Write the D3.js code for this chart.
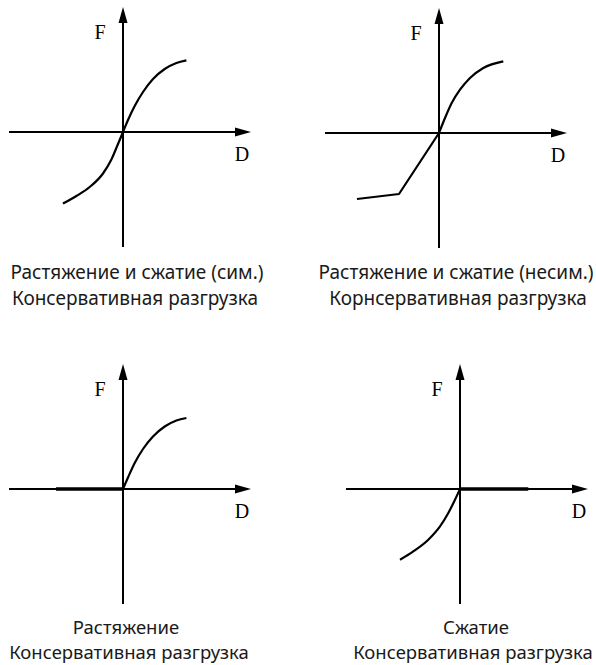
<!DOCTYPE html>
<html><head><meta charset="utf-8">
<script src="https://cdn.jsdelivr.net/npm/d3@7"></script>
<style>body{margin:0;background:#fff}svg{display:block}</style>
</head><body>
<svg id="c" width="596" height="665"></svg>
<script>
// ---------- data ----------
const axisNames = ["D", "F"];
const captions = [
  ["Растяжение и сжатие (сим.)", "Консервативная разгрузка"],
  ["Растяжение и сжатие (несим.)", "Корнсервативная разгрузка"],
  ["Растяжение", "Консервативная разгрузка"],
  ["Сжатие", "Консервативная разгрузка"]
];
const axisD = [-11.4, 12.8];
const axisF = [-11.5, 12.5];

// panel 1: symmetric S-curve
const p1D = [-6.0, -4.66, -3.33, -2.0, -1.16, -0.5, 0, 0.5, 1.17, 2.0, 3.0, 4.17, 5.34, 6.34];
const p1F = [-7.16, -6.4, -5.5, -4.15, -2.75, -1.2, 0, 1.2, 2.6, 4.0, 5.3, 6.3, 6.9, 7.17];
// panel 2: asymmetric (linear lower branch + curved upper branch)
const p2LinD = [-8.2, -4.0, 0];
const p2LinF = [-6.6, -6.1, 0];
const p2CurD = [0, 0.6, 1.27, 2.1, 3.1, 4.43, 6.43];
const p2CurF = [0, 1.5, 3.0, 4.33, 5.5, 6.5, 7.16];
// panel 3: tension only
const p3FlatD = [-6.7, 0];
const p3FlatF = [0, 0];
const p3CurD = [0, 0.5, 1.17, 2.0, 3.0, 4.17, 5.34, 6.34];
const p3CurF = [0, 1.15, 2.6, 4.0, 5.25, 6.25, 6.85, 7.1];
// panel 4: compression only
const p4FlatD = [0, 6.83];
const p4FlatF = [0, 0];
const p4CurD = [-6.0, -4.67, -3.17, -2.0, -1.17, -0.5, 0];
const p4CurF = [-7.07, -6.24, -5.07, -3.74, -2.4, -1.07, 0];

const zip = (a, b) => a.map((v, i) => [v, b[i]]);
const panelSeries = [
  [{pts: zip(p1D, p1F), kind: "curve"}],
  [{pts: zip(p2LinD, p2LinF), kind: "linear"}, {pts: zip(p2CurD, p2CurF), kind: "curve"}],
  [{pts: zip(p3FlatD, p3FlatF), kind: "flat"}, {pts: zip(p3CurD, p3CurF), kind: "curve"}],
  [{pts: zip(p4FlatD, p4FlatF), kind: "flat"}, {pts: zip(p4CurD, p4CurF), kind: "curve"}]
];

// ---------- layout ----------
const origins = [[123, 132], [439, 133], [123, 489], [460, 489]];
const capX = [[137, 135], [456, 458], [126, 129], [476, 473]];
const capY = [[279, 305], [279, 305], [634, 659], [634, 659]];
const capSize = [19, 19, 18.5, 18.5];
const unit = 10;

const svg = d3.select("#c");

panelSeries.forEach((series, i) => {
  const [ox, oy] = origins[i];
  const x = d3.scaleLinear().domain(axisD).range([ox + axisD[0] * unit, ox + axisD[1] * unit]);
  const y = d3.scaleLinear().domain(axisF).range([oy - axisF[0] * unit, oy - axisF[1] * unit]);
  const g = svg.append("g");

  // axes
  g.append("line").attr("x1", x(axisD[0])).attr("x2", x(axisD[1]) - 6)
    .attr("y1", y(0)).attr("y2", y(0)).attr("stroke", "#000").attr("stroke-width", 2);
  g.append("line").attr("x1", x(0)).attr("x2", x(0))
    .attr("y1", y(axisF[0])).attr("y2", y(axisF[1]) + 6).attr("stroke", "#000").attr("stroke-width", 2);
  // arrowheads
  const xt = x(axisD[1]), yt = y(axisF[1]);
  g.append("path").attr("d", `M${xt},${y(0)}L${xt - 16},${y(0) - 4.5}L${xt - 16},${y(0) + 4.5}Z`).attr("fill", "#000");
  g.append("path").attr("d", `M${x(0)},${yt}L${x(0) - 4.5},${yt + 16}L${x(0) + 4.5},${yt + 16}Z`).attr("fill", "#000");

  // axis labels
  g.append("text").attr("x", x(0) - 23).attr("y", y(0) - 100)
    .attr("dominant-baseline", "central").attr("text-anchor", "middle")
    .attr("font-family", "Liberation Serif, Times New Roman, serif").attr("font-size", 20)
    .text(axisNames[1]);
  g.append("text").attr("x", x(0) + 119).attr("y", y(0) + 22)
    .attr("dominant-baseline", "central").attr("text-anchor", "middle")
    .attr("font-family", "Liberation Serif, Times New Roman, serif").attr("font-size", 20)
    .text(axisNames[0]);

  // series
  series.forEach(s => {
    const line = d3.line().x(d => x(d[0])).y(d => y(d[1]))
      .curve(s.kind === "curve" ? d3.curveMonotoneX : d3.curveLinear);
    g.append("path").attr("d", line(s.pts)).attr("fill", "none").attr("stroke", "#000")
      .attr("stroke-width", s.kind === "flat" ? 3.5 : 2.2)
      .attr("stroke-linecap", "butt").attr("stroke-linejoin", "round");
  });

  // captions
  captions[i].forEach((t, k) => {
    g.append("text").attr("x", capX[i][k]).attr("y", capY[i][k])
      .attr("text-anchor", "middle").attr("fill", "#1a1a1a")
      .attr("font-family", "Noto Sans, sans-serif").attr("font-size", capSize[i])
      .text(t);
  });
});
</script>
</body></html>
